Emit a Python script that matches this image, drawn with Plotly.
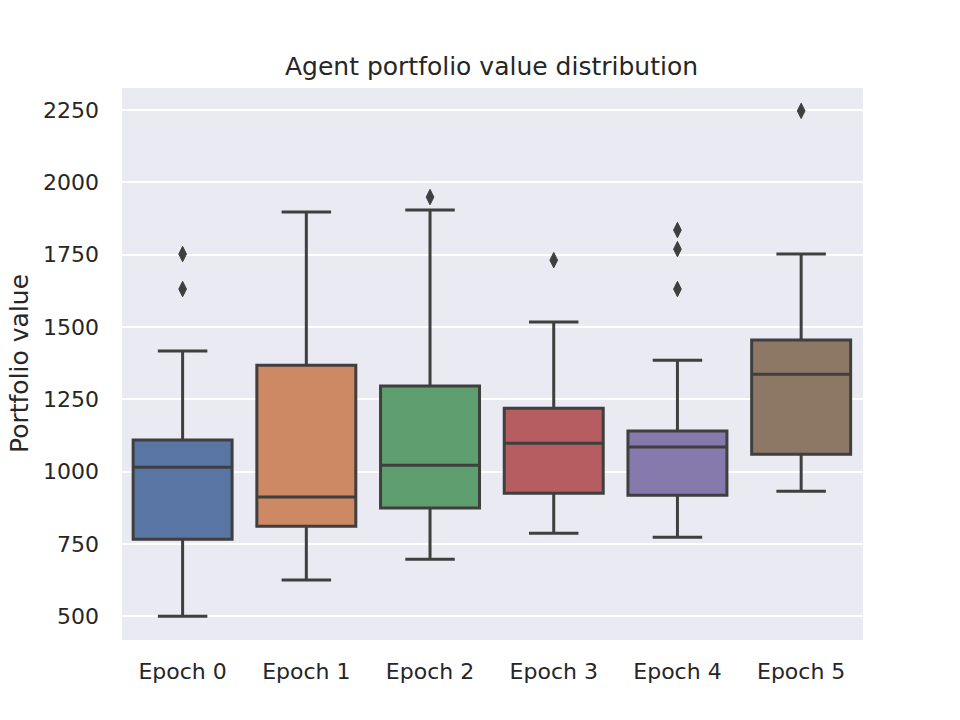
import plotly.graph_objects as go

categories = ["Epoch 0", "Epoch 1", "Epoch 2", "Epoch 3", "Epoch 4", "Epoch 5"]
lower_whisker = [500, 625, 697, 787, 773, 932]
q1 = [766, 811, 874, 925, 918, 1060]
median = [1015, 912, 1022, 1098, 1085, 1337]
q3 = [1109, 1368, 1296, 1219, 1140, 1455]
upper_whisker = [1417, 1897, 1904, 1517, 1385, 1752]
outliers = [
    [1752, 1631],
    [],
    [1949],
    [1731],
    [1835, 1769, 1631],
    [2247],
]
colors = ["#5875a4", "#cc8963", "#5f9e6e", "#b55d60", "#857aab", "#8d7866"]

LINE = "#3f3f3f"
TEXT = "#262626"

fig = go.Figure()
for i, cat in enumerate(categories):
    fig.add_trace(go.Box(
        x=[cat],
        q1=[q1[i]], median=[median[i]], q3=[q3[i]],
        lowerfence=[lower_whisker[i]], upperfence=[upper_whisker[i]],
        fillcolor=colors[i],
        line=dict(color=LINE, width=3),
        width=0.8,
        whiskerwidth=0.5,
        boxpoints=False,
        showlegend=False,
        hoverinfo="skip",
    ))
    if outliers[i]:
        fig.add_trace(go.Scatter(
            x=[cat] * len(outliers[i]),
            y=outliers[i],
            mode="markers",
            marker=dict(symbol="diamond-tall", size=11, color=LINE,
                        line=dict(color=LINE, width=1)),
            showlegend=False,
            hoverinfo="skip",
        ))

fig.update_layout(
    width=960, height=720,
    margin=dict(l=114, r=105, t=80, b=88),
    paper_bgcolor="white",
    plot_bgcolor="#EAEAF2",
    boxmode="overlay",
    font=dict(family="DejaVu Sans", color=TEXT, size=22),
    title=dict(text="Agent portfolio value distribution", x=483.5 / 960, xanchor="center",
               y=1 - 58 / 720, yanchor="middle", font=dict(size=25, color=TEXT)),
    annotations=[dict(
        text="Portfolio value", textangle=-90, showarrow=False,
        xref="paper", yref="paper", x=-103 / 741, y=0.5,
        xanchor="center", yanchor="middle",
        font=dict(size=25, color=TEXT),
    )],
)
fig.update_xaxes(
    type="category", categoryorder="array", categoryarray=categories,
    range=[-0.49, 5.5], showgrid=False, zeroline=False, showline=False,
    ticks="", ticklabelstandoff=16, tickfont=dict(size=22, color=TEXT),
    automargin=False,
)
fig.update_yaxes(
    range=[418, 2326], tickvals=[500, 750, 1000, 1250, 1500, 1750, 2000, 2250],
    showgrid=True, gridcolor="white", gridwidth=2, zeroline=False, showline=False,
    ticks="", ticklabelstandoff=22, tickfont=dict(size=22, color=TEXT),
    automargin=False,
)

fig.write_html("out.html")
